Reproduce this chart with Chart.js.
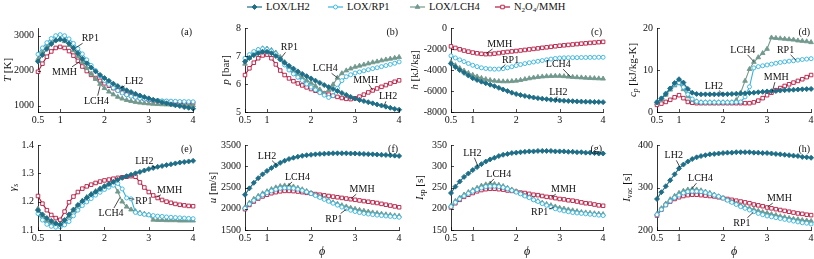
<!DOCTYPE html>
<html>
<head>
<meta charset="utf-8">
<script src="https://cdn.jsdelivr.net/npm/chart.js@4.4.1/dist/chart.umd.min.js"></script>
<style>
body{margin:0;background:#fff;}
#wrap{position:relative;width:814px;height:259px;overflow:hidden;font-family:"Liberation Serif",serif;}
canvas.p{position:absolute;}
.lg{position:absolute;top:0;font-size:10.5px;line-height:13px;color:#111;white-space:nowrap;}
.lg canvas{vertical-align:middle;margin-right:4px;position:relative;top:-1px;}
.lg sub{font-size:7px;vertical-align:-2px;line-height:0;}
</style>
</head>
<body>
<div id="wrap"></div>
<script>
const phi = [0.5,0.6,0.7,0.8,0.9,1.0,1.1,1.2,1.3,1.4,1.5,1.6,1.7,1.8,1.9,2.0,2.1,2.2,2.3,2.4,2.5,2.6,2.7,2.8,2.9,3.0,3.1,3.2,3.3,3.4,3.5,3.6,3.7,3.8,3.9,4.0];

// (a) T [K]
const T_LH2 = [2260,2450,2620,2760,2860,2900,2870,2780,2650,2500,2340,2210,2090,1980,1880,1790,1710,1630,1560,1500,1440,1390,1340,1290,1250,1210,1170,1140,1100,1070,1040,1010,990,960,940,915];
const T_RP1 = [2470,2650,2800,2920,3000,3030,3000,2910,2780,2630,2480,2310,2150,2000,1850,1720,1610,1510,1430,1360,1310,1270,1240,1210,1190,1175,1160,1150,1140,1135,1130,1125,1120,1118,1115,1112];
const T_LCH4 = [2330,2530,2690,2810,2880,2890,2840,2730,2580,2410,2240,2070,1910,1760,1620,1500,1400,1320,1250,1200,1160,1130,1105,1085,1070,1060,1050,1043,1037,1032,1028,1024,1020,1017,1014,1010];
const T_MMH = [1970,2200,2400,2550,2650,2680,2650,2560,2430,2280,2120,1990,1880,1790,1710,1640,1570,1500,1440,1380,1330,1290,1250,1220,1195,1170,1150,1135,1120,1110,1100,1095,1090,1085,1080,1075];

// (b) p [bar]
const p_LH2 = [6.80,6.93,7.03,7.10,7.15,7.15,7.10,7.00,6.88,6.76,6.65,6.55,6.45,6.36,6.28,6.20,6.12,6.04,5.96,5.89,5.82,5.75,5.68,5.61,5.54,5.48,5.43,5.39,5.35,5.31,5.27,5.23,5.19,5.15,5.11,5.08];
const p_RP1 = [6.92,7.05,7.16,7.23,7.26,7.24,7.18,7.08,6.88,6.68,6.50,6.36,6.24,6.12,6.00,5.89,5.79,5.69,5.60,5.52,5.58,5.85,6.12,6.26,6.33,6.39,6.43,6.47,6.51,6.55,6.58,6.62,6.66,6.70,6.74,6.79];
const p_LCH4 = [6.72,6.93,7.10,7.22,7.27,7.26,7.21,7.12,6.96,6.78,6.60,6.47,6.35,6.23,6.13,6.04,5.93,5.80,5.66,5.78,5.98,6.22,6.38,6.48,6.55,6.61,6.65,6.69,6.73,6.77,6.80,6.84,6.87,6.90,6.93,6.96];
const p_MMH = [6.32,6.56,6.76,6.92,7.02,7.05,6.92,6.70,6.48,6.32,6.20,6.10,6.02,5.95,5.88,5.82,5.76,5.71,5.66,5.62,5.58,5.54,5.50,5.47,5.46,5.49,5.55,5.62,5.70,5.77,5.84,5.90,5.96,6.02,6.08,6.13];

// (c) h [kJ/kg]
const h_LH2 = [-3400,-3720,-4010,-4270,-4530,-4780,-4950,-5110,-5260,-5400,-5540,-5700,-5860,-6010,-6160,-6290,-6380,-6470,-6550,-6620,-6680,-6730,-6780,-6830,-6870,-6900,-6930,-6950,-6970,-6990,-7010,-7020,-7030,-7040,-7050,-7060];
const h_RP1 = [-2650,-2850,-3030,-3200,-3380,-3550,-3680,-3790,-3860,-3900,-3920,-3910,-3870,-3790,-3690,-3580,-3480,-3390,-3310,-3240,-3170,-3100,-3030,-2960,-2900,-2860,-2840,-2830,-2820,-2820,-2810,-2810,-2800,-2800,-2790,-2790];
const h_LCH4 = [-3250,-3550,-3820,-4070,-4290,-4470,-4630,-4770,-4880,-4970,-5030,-5070,-5090,-5090,-5070,-5030,-4960,-4880,-4800,-4730,-4670,-4630,-4600,-4580,-4570,-4570,-4600,-4640,-4670,-4700,-4720,-4750,-4770,-4790,-4810,-4830];
const h_MMH = [-1750,-1900,-2030,-2150,-2250,-2340,-2410,-2460,-2490,-2480,-2440,-2390,-2330,-2280,-2230,-2190,-2140,-2090,-2040,-1990,-1940,-1890,-1840,-1790,-1740,-1690,-1650,-1610,-1570,-1530,-1490,-1460,-1420,-1390,-1350,-1320];

// (d) cp [kJ/kg-K]
const cp_LH2 = [2.3,3.2,4.3,5.6,6.9,7.8,7.0,5.5,4.6,4.3,4.2,4.2,4.2,4.2,4.2,4.2,4.25,4.3,4.35,4.4,4.45,4.5,4.6,4.7,4.8,4.9,4.95,5.0,5.1,5.2,5.25,5.3,5.35,5.4,5.45,5.5];
const cp_RP1 = [2.4,3.3,4.4,5.6,6.6,7.0,5.9,4.2,3.1,2.5,2.3,2.3,2.3,2.3,2.3,2.3,2.3,2.3,2.35,2.4,3.6,6.0,10.5,10.8,11.0,11.2,11.4,11.6,11.8,11.95,12.1,12.2,12.35,12.5,12.6,12.7];
const cp_LCH4 = [2.1,3.0,4.1,5.3,6.3,6.8,5.4,3.7,2.9,2.5,2.3,2.3,2.3,2.3,2.3,2.3,2.3,2.3,2.8,4.6,7.4,10.2,11.9,13.0,14.0,15.0,17.7,17.6,17.5,17.4,17.3,17.2,17.0,16.9,16.8,16.6];
const cp_MMH = [1.7,2.0,2.4,2.9,3.5,4.0,3.3,2.4,2.2,2.1,2.1,2.1,2.1,2.1,2.1,2.1,2.1,2.1,2.1,2.1,2.1,2.1,2.3,2.7,3.3,4.0,4.6,5.2,5.7,6.2,6.6,7.0,7.4,7.8,8.3,8.8];

// (e) gamma_s
const g_LH2 = [1.170,1.155,1.142,1.132,1.124,1.119,1.135,1.155,1.172,1.188,1.202,1.214,1.225,1.235,1.245,1.254,1.262,1.270,1.277,1.284,1.290,1.295,1.300,1.305,1.310,1.315,1.319,1.323,1.326,1.329,1.332,1.335,1.338,1.340,1.342,1.344];
const g_RP1 = [1.158,1.135,1.120,1.113,1.110,1.111,1.118,1.130,1.150,1.170,1.186,1.199,1.211,1.223,1.233,1.243,1.251,1.258,1.264,1.245,1.213,1.210,1.162,1.158,1.155,1.153,1.151,1.149,1.148,1.146,1.145,1.144,1.143,1.142,1.141,1.140];
const g_LCH4 = [1.175,1.150,1.132,1.123,1.119,1.119,1.128,1.147,1.168,1.187,1.203,1.216,1.227,1.237,1.246,1.254,1.260,1.265,1.235,1.200,1.182,1.172,1.166,1.161,1.157,1.153,1.136,1.135,1.135,1.134,1.134,1.134,1.133,1.133,1.133,1.133];
const g_MMH = [1.220,1.193,1.170,1.153,1.142,1.136,1.165,1.198,1.218,1.234,1.246,1.254,1.260,1.266,1.271,1.275,1.278,1.281,1.284,1.286,1.288,1.290,1.288,1.268,1.250,1.234,1.222,1.213,1.206,1.200,1.196,1.192,1.189,1.187,1.185,1.184];

// (f) u [m/s]
const u_LH2 = [2330,2480,2610,2720,2810,2890,2960,3020,3080,3130,3170,3200,3225,3245,3260,3270,3280,3290,3295,3300,3305,3305,3305,3305,3300,3300,3295,3290,3285,3280,3275,3270,3265,3258,3250,3243];
const u_RP1 = [2010,2110,2195,2265,2325,2375,2420,2455,2480,2490,2490,2480,2460,2430,2395,2355,2310,2265,2220,2175,2130,2085,2040,2000,1965,1935,1910,1890,1875,1862,1850,1840,1830,1820,1810,1800];
const u_LCH4 = [2030,2140,2230,2300,2360,2410,2460,2500,2530,2545,2540,2520,2490,2455,2415,2370,2325,2280,2235,2190,2150,2115,2080,2050,2020,1995,1970,1950,1930,1910,1895,1880,1865,1852,1840,1830];
const u_MMH = [1990,2090,2170,2240,2290,2330,2365,2390,2410,2420,2420,2415,2405,2390,2375,2360,2345,2330,2315,2300,2285,2270,2255,2240,2225,2210,2195,2180,2165,2150,2135,2115,2095,2075,2055,2035];

// (g) Isp [s]
const isp_LH2 = [237,252,264,275,283,291,298,305,311,316,320,324,327,329,331,332,333,334,335,335,336,336,336,336,335,335,335,334,334,333,333,332,332,331,330,330];
const isp_RP1 = [205,215,223,230,236,241,245,249,252,253,253,252,250,247,243,239,235,230,226,221,217,212,208,204,200,197,195,193,191,190,189,188,187,186,185,184];
const isp_LCH4 = [207,218,226,233,239,244,249,254,257,259,258,256,253,249,245,241,236,231,227,222,218,214,211,208,205,202,200,198,196,194,192,191,190,189,188,187];
const isp_MMH = [203,213,221,228,233,237,241,244,246,247,247,246,245,243,242,240,238,237,235,233,232,230,228,227,225,223,222,220,219,217,215,213,212,210,208,207];

// (h) Ivac [s]
const ivac_LH2 = [273,289,303,317,331,345,354,361,367,371,374,376,378,379,380,381,382,382,383,383,383,383,382,382,381,381,380,379,378,377,376,375,374,372,371,370];
const ivac_RP1 = [236,248,259,268,276,282,287,290,291,291,290,288,285,282,279,275,270,265,260,255,251,247,243,239,236,233,231,229,227,225,223,221,219,217,216,214];
const ivac_LCH4 = [238,251,262,272,280,287,292,295,296,295,293,290,287,283,279,275,270,266,262,258,254,251,248,245,242,240,237,235,232,230,228,226,225,223,222,221];
const ivac_MMH = [234,248,259,267,273,277,280,282,283,283,282,281,280,279,277,275,273,271,269,267,265,263,260,258,256,253,251,249,247,245,243,241,239,238,236,235];

const xTicks = [0.5, 1, 2, 3, 4];

const series = [
  {label: 'LOX/LH2', html: 'LOX/LH2', color: '#1f6e87', style: 'rectRot', fill: true, r: 2.5},
  {label: 'LOX/RP1', html: 'LOX/RP1', color: '#36b3dc', style: 'circle', fill: false, r: 2.0},
  {label: 'LOX/LCH4', html: 'LOX/LCH4', color: '#72998d', style: 'triangle', fill: true, r: 2.7},
  {label: 'N2O4/MMH', html: 'N<sub>2</sub>O<sub>4</sub>/MMH', color: '#b5173f', style: 'rect', fill: false, r: 2.5},
];

const panels = [
  {tag: '(a)', left: 38, right: 194, top: 24, bottom: 112, min: 820, max: 3220, ticks: [1000, 2000, 3000],
   data: [T_LH2, T_RP1, T_LCH4, T_MMH], title: [{t: 'T', i: 1}, {t: ' [K]'}], toff: 30, xtitle: false,
   notes: [['RP1', 1.68, 2926, 1.37, 2670], ['MMH', 1.1, 1967, 1.43, 2250], ['LH2', 2.67, 1707, 2.37, 1510], ['LCH4', 1.82, 1145, 1.9, 1560]]},
  {tag: '(b)', left: 245, right: 400, top: 24, bottom: 112, min: 5, max: 8, ticks: [5, 6, 7, 8],
   data: [p_LH2, p_RP1, p_LCH4, p_MMH], title: [{t: 'p', i: 1}, {t: ' [bar]'}], toff: 19, xtitle: false,
   notes: [['RP1', 1.51, 7.31, 1.33, 6.95], ['LCH4', 2.32, 6.56, 2.6, 6.22], ['MMH', 3.24, 6.16, 3.4, 5.78], ['LH2', 3.75, 5.56, 3.66, 5.23]]},
  {tag: '(c)', left: 451, right: 604, top: 24, bottom: 112, min: -8000, max: 0, ticks: [-8000, -6000, -4000, -2000, 0],
   data: [h_LH2, h_RP1, h_LCH4, h_MMH], title: [{t: 'h', i: 1}, {t: ' [kJ/kg]'}], toff: 36, xtitle: false,
   notes: [['MMH', 1.62, -1525, 1.3, -2450], ['RP1', 1.87, -2990, 1.65, -3880], ['LCH4', 2.97, -3440, 3.25, -4650], ['LH2', 2.97, -6045, 2.92, -6870]]},
  {tag: '(d)', left: 657, right: 812, top: 24, bottom: 112, min: 0, max: 20, ticks: [0, 10, 20],
   data: [cp_LH2, cp_RP1, cp_LCH4, cp_MMH], title: [{t: 'c', i: 1}, {t: 'p', i: 1, s: 1}, {t: ' [kJ/kg-K]'}], toff: 24, xtitle: false,
   notes: [['LCH4', 2.45, 14.8, 2.7, 12.0], ['RP1', 3.42, 14.8, 3.66, 12.3], ['MMH', 3.21, 8.3, 3.12, 4.9], ['LH2', 1.79, 6.3, 1.99, 4.3]]},
  {tag: '(e)', left: 38, right: 194, top: 141, bottom: 230, min: 1.1, max: 1.4, ticks: [1.1, 1.2, 1.3, 1.4],
   data: [g_LH2, g_RP1, g_LCH4, g_MMH], title: [{t: 'γ', i: 1}, {t: 's', i: 1, s: 1}], toff: 25, xtitle: false,
   notes: [['LH2', 2.9, 1.345, 3.14, 1.32], ['MMH', 3.47, 1.242, 3.18, 1.216], ['RP1', 2.89, 1.204, 2.56, 1.211], ['LCH4', 2.15, 1.16, 2.35, 1.215]]},
  {tag: '(f)', left: 245, right: 400, top: 141, bottom: 230, min: 1500, max: 3500, ticks: [1500, 2000, 2500, 3000, 3500],
   data: [u_LH2, u_RP1, u_LCH4, u_MMH], title: [{t: 'u', i: 1}, {t: ' [m/s]'}], toff: 32, xtitle: true,
   notes: [['LH2', 1.0, 3251, 1.22, 3025], ['LCH4', 1.69, 2750, 1.48, 2545], ['MMH', 3.16, 2460, 2.9, 2230], ['RP1', 2.52, 1770, 2.81, 1995]]},
  {tag: '(g)', left: 451, right: 604, top: 141, bottom: 230, min: 150, max: 350, ticks: [150, 200, 250, 300, 350],
   data: [isp_LH2, isp_RP1, isp_LCH4, isp_MMH], title: [{t: 'I', i: 1}, {t: 'sp', s: 1}, {t: ' [s]'}], toff: 31, xtitle: true,
   notes: [['LH2', 0.99, 332, 1.12, 300], ['LCH4', 1.6, 282, 1.39, 260], ['MMH', 3.09, 246, 2.8, 227], ['RP1', 2.54, 192, 2.86, 203]]},
  {tag: '(h)', left: 657, right: 812, top: 141, bottom: 230, min: 200, max: 400, ticks: [200, 300, 400],
   data: [ivac_LH2, ivac_RP1, ivac_LCH4, ivac_MMH], title: [{t: 'I', i: 1}, {t: 'vac', s: 1}, {t: ' [s]'}], toff: 30, xtitle: true,
   notes: [['LH2', 0.88, 375.6, 1.02, 348], ['LCH4', 1.49, 322, 1.29, 297], ['MMH', 3.28, 275, 3.01, 254], ['RP1', 2.43, 217, 2.69, 242]]},
];

const FONT = '"Liberation Serif", serif';
const L = 46, R = 4, T = 6;
const wrap = document.getElementById('wrap');

// rich text (italic / subscript parts), centred on x
function richWidth(ctx, parts, size) {
  let w = 0;
  parts.forEach(p => {
    ctx.font = (p.i ? 'italic ' : '') + (p.s ? size * 0.7 : size) + 'px ' + FONT;
    w += ctx.measureText(p.t).width;
  });
  return w;
}
function drawRich(ctx, parts, x, y, size) {
  let cx = x - richWidth(ctx, parts, size) / 2;
  parts.forEach(p => {
    ctx.font = (p.i ? 'italic ' : '') + (p.s ? size * 0.7 : size) + 'px ' + FONT;
    ctx.fillText(p.t, cx, p.s ? y + size * 0.25 : y);
    cx += ctx.measureText(p.t).width;
  });
}

const decor = {
  id: 'decor',
  afterDatasetsDraw(chart) {
    const pn = chart.options.plugins.decor.panel;
    const {ctx, chartArea: a, scales: {x, y}} = chart;
    ctx.save();
    ctx.strokeStyle = '#000';
    ctx.lineWidth = 0.7;
    ctx.beginPath();
    y.ticks.forEach(t => { const py = Math.round(y.getPixelForValue(t.value)) + 0.5; ctx.moveTo(a.left, py); ctx.lineTo(a.left + 3, py); });
    x.ticks.forEach(t => { const px = Math.round(x.getPixelForValue(t.value)) + 0.5; ctx.moveTo(px, a.bottom); ctx.lineTo(px, a.bottom - 3); });
    ctx.stroke();

    ctx.fillStyle = '#111';
    ctx.textBaseline = 'alphabetic';
    ctx.font = '10px ' + FONT;
    ctx.textAlign = 'right';
    ctx.fillText(pn.tag, a.right - 1, a.top + 7);
    ctx.textAlign = 'left';

    // leader labels
    pn.notes.forEach(([txt, tx, ty, px, py]) => {
      ctx.font = '10px ' + FONT;
      const cx = x.getPixelForValue(tx), cy = y.getPixelForValue(ty);
      const ex = x.getPixelForValue(px), ey = y.getPixelForValue(py);
      const w = ctx.measureText(txt).width / 2 + 1, h = 5;
      const dx = ex - cx, dy = ey - cy;
      const k = Math.min(dx ? w / Math.abs(dx) : 1e9, dy ? h / Math.abs(dy) : 1e9);
      ctx.beginPath();
      ctx.moveTo(cx + dx * k, cy + dy * k);
      ctx.lineTo(ex, ey);
      ctx.stroke();
      ctx.textAlign = 'center';
      ctx.textBaseline = 'middle';
      ctx.fillText(txt, cx, cy + 0.5);
    });

    // y title
    ctx.textAlign = 'left';
    ctx.textBaseline = 'middle';
    ctx.translate(a.left - pn.toff, (a.top + a.bottom) / 2);
    ctx.rotate(-Math.PI / 2);
    drawRich(ctx, pn.title, 0, 0, 11);
    ctx.setTransform(1, 0, 0, 1, 0, 0);

    if (pn.xtitle) {
      ctx.font = 'italic 12px ' + FONT;
      ctx.textAlign = 'center';
      ctx.textBaseline = 'middle';
      ctx.fillText('ϕ', (a.left + a.right) / 2, a.bottom + 22);
    }
    ctx.restore();
  }
};

panels.forEach(pn => {
  const B = pn.xtitle ? 28 : 22;
  const c = document.createElement('canvas');
  c.className = 'p';
  const w = pn.right - pn.left + L + R, h = pn.bottom - pn.top + T + B;
  c.width = w; c.height = h;
  c.style.left = (pn.left - L) + 'px';
  c.style.top = (pn.top - T) + 'px';
  c.style.width = w + 'px'; c.style.height = h + 'px';
  wrap.appendChild(c);

  const datasets = series.map((s, k) => ({
    label: s.label,
    data: phi.map((v, i) => ({x: v, y: pn.data[k][i]})),
    borderColor: s.color,
    borderWidth: 1.1,
    pointStyle: s.style,
    pointRadius: s.r,
    pointBorderWidth: 0.9,
    pointBorderColor: s.color,
    pointBackgroundColor: s.fill ? s.color : '#fff',
    tension: 0,
    clip: 4,
  }));

  new Chart(c, {
    type: 'line',
    data: {datasets},
    plugins: [decor],
    options: {
      responsive: false,
      animation: false,
      events: [],
      layout: {padding: {left: 0, right: R, top: T, bottom: 0}},
      plugins: {legend: {display: false}, tooltip: {enabled: false}, decor: {panel: pn}},
      scales: {
        x: {
          type: 'linear', min: 0.5, max: 4,
          afterFit(s) { s.height = B; },
          afterBuildTicks(s) { s.ticks = xTicks.map(v => ({value: v})); },
          grid: {display: false, drawTicks: false},
          border: {display: true, color: '#000', width: 0.8},
          ticks: {padding: 2, color: '#111', font: {family: FONT, size: 10}, maxRotation: 0, autoSkip: false, callback: v => String(v)},
        },
        y: {
          type: 'linear', min: pn.min, max: pn.max,
          afterFit(s) { s.width = L; },
          afterBuildTicks(s) { s.ticks = pn.ticks.map(v => ({value: v})); },
          grid: {display: false, drawTicks: false},
          border: {display: true, color: '#000', width: 0.8},
          ticks: {padding: 4, color: '#111', font: {family: FONT, size: 10}, autoSkip: false, callback: v => String(v)},
        },
      },
    },
  });
});

// legend row
const legendLeft = [247, 328, 410, 495];
series.forEach((s, k) => {
  const d = document.createElement('div');
  d.className = 'lg';
  d.style.left = legendLeft[k] + 'px';
  const ic = document.createElement('canvas');
  ic.width = 15; ic.height = 10;
  const g = ic.getContext('2d');
  g.strokeStyle = s.color; g.lineWidth = 1.2;
  g.beginPath(); g.moveTo(0, 5); g.lineTo(15, 5); g.stroke();
  g.fillStyle = s.fill ? s.color : '#fff';
  g.lineWidth = 0.9;
  Chart.helpers.drawPoint(g, {pointStyle: s.style, radius: s.r, borderWidth: 0.9, rotation: 0}, 7.5, 5);
  d.appendChild(ic);
  const sp = document.createElement('span');
  sp.innerHTML = s.html;
  d.appendChild(sp);
  wrap.appendChild(d);
});
</script>
</body>
</html>
